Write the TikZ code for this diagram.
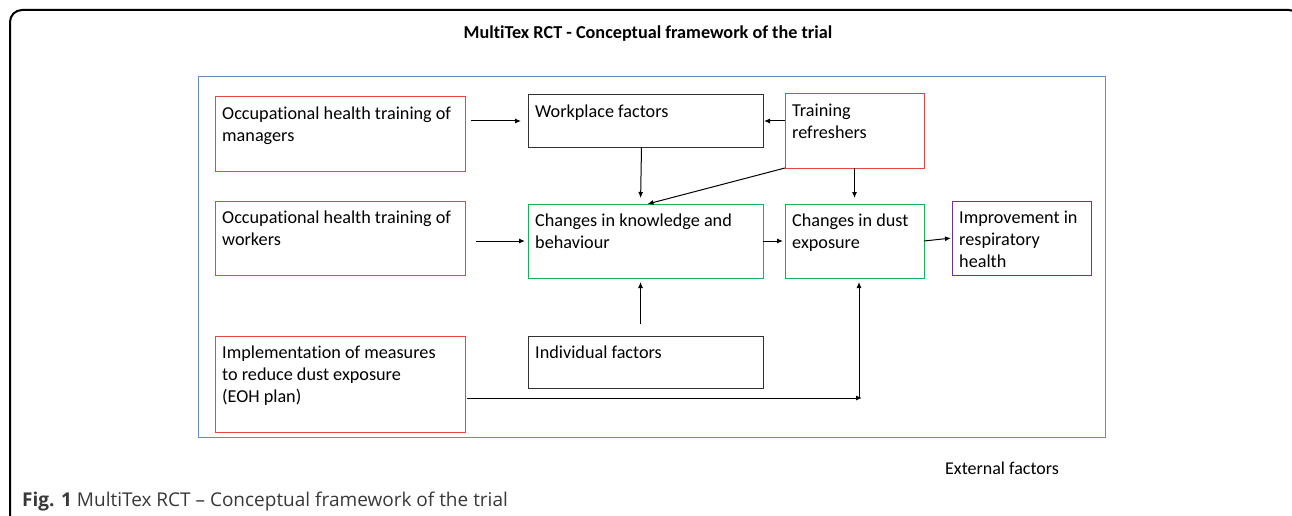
\documentclass[tikz,border=0pt]{standalone}
\usepackage{fontspec}
\setmainfont[Ligatures=NoCommon]{Carlito}
\newfontfamily\capfont{Open Sans}
\usetikzlibrary{arrows.meta,calc}
\definecolor{bred}{RGB}{232,70,60}
\definecolor{bgreen}{RGB}{20,180,85}
\definecolor{bpurple}{RGB}{112,48,160}
\definecolor{bblue}{RGB}{100,140,195}
\definecolor{bgray}{RGB}{50,50,50}
\tikzset{
  bx/.style={draw=#1, line width=1pt, anchor=north west, inner sep=0pt, outer sep=0pt},
  lbl/.style={anchor=north west, align=left, inner xsep=7pt, inner ysep=9.5pt,
    font=\fontsize{18.2}{22}\selectfont},
  arr/.style={draw=black, line width=1pt, -{Latex[length=6pt,width=5pt]}},
}
\begin{document}
\begin{tikzpicture}[x=1pt,y=-1pt]
\useasboundingbox (0,0) rectangle (1292,516);
\begin{scope}
\clip (0,0) rectangle (1292,516);
\draw[line width=2pt, rounded corners=12pt] (10,540) -- (10,10) -- (1301,10) -- (1301,540);
\end{scope}
\node[font=\bfseries\fontsize{18.2}{20}\selectfont, inner sep=0pt] (title) at (648,34) {MultiTex RCT - Conceptual framework of the trial};
\node[bx=bblue, minimum width=907pt, minimum height=360pt] (outer) at (198,77) {};
% left column
\node[bx=bred, minimum width=250pt, minimum height=74pt,
  label={[lbl]north west:{Occupational health training of\\managers}}] (mgr) at (215,97) {};
\node[bx=bred, minimum width=250pt, minimum height=74pt,
  label={[lbl]north west:{Occupational health training of\\workers}}] (wrk) at (215,201) {};
\node[bx=bred, minimum width=250pt, minimum height=96pt,
  label={[lbl]north west:{Implementation of measures\\to reduce dust exposure\\(EOH plan)}}] (eoh) at (215,336) {};
% middle column
\node[bx=bgray, minimum width=235pt, minimum height=52pt,
  label={[lbl]north west:{Workplace factors}}] (wp) at (528,95) {};
\node[bx=bgreen, minimum width=235pt, minimum height=74pt,
  label={[lbl]north west:{Changes in knowledge and\\behaviour}}] (kb) at (528,204) {};
\node[bx=bgray, minimum width=235pt, minimum height=52pt,
  label={[lbl]north west:{Individual factors}}] (ind) at (528,336) {};
% right column
\node[bx=bred, minimum width=139pt, minimum height=74pt,
  label={[lbl]north west:{Training\\refreshers}}] (tr) at (785,94) {};
\node[bx=bgreen, minimum width=139pt, minimum height=74pt,
  label={[lbl]north west:{Changes in dust\\exposure}}] (dust) at (785,204) {};
\node[bx=bpurple, minimum width=139pt, minimum height=74pt,
  label={[lbl]north west:{Improvement in\\respiratory\\health}}] (imp) at (952,201) {};
% texts
\node[font=\fontsize{18}{20}\selectfont, inner sep=0pt] (ext) at (1002,468) {External factors};
\node[anchor=base west, inner sep=0pt, text=black!78, font=\capfont\fontsize{19}{22}\selectfont] (cap) at (22,506) {\textbf{Fig. 1} MultiTex RCT – Conceptual framework of the trial};
% connectors
\coordinate (corner) at (859,398);
\draw[arr, shorten <=6pt, shorten >=7pt] (mgr.east |- wp.west) -- (wp.west);
\draw[arr, shorten <=11pt, shorten >=3pt] (wrk.east |- kb.west) -- (kb.west);
\draw[arr, shorten >=1pt] (tr.west |- wp.east) -- (wp.east);
\draw[arr, shorten >=6pt] ([xshift=-4pt]wp.south) -- ([xshift=-5pt]kb.north);
\draw[arr] (tr.south west) -- ([xshift=2pt]kb.north);
\draw[arr, shorten >=6pt] (tr.south) -- (dust.north);
\draw[arr, shorten >=2pt] (kb.east) -- (dust.west);
\draw[arr, shorten >=1pt] (dust.east) -- (imp.west);
\draw[arr, shorten <=12pt, shorten >=4pt] ([xshift=-5pt]ind.north) -- ([xshift=-5pt]kb.south);
\draw[arr, shorten <=2pt] (eoh.east |- corner) -- ([xshift=3pt]corner);
\draw[arr, shorten >=4pt] (corner) -- (corner |- dust.south);
\end{tikzpicture}
\end{document}
